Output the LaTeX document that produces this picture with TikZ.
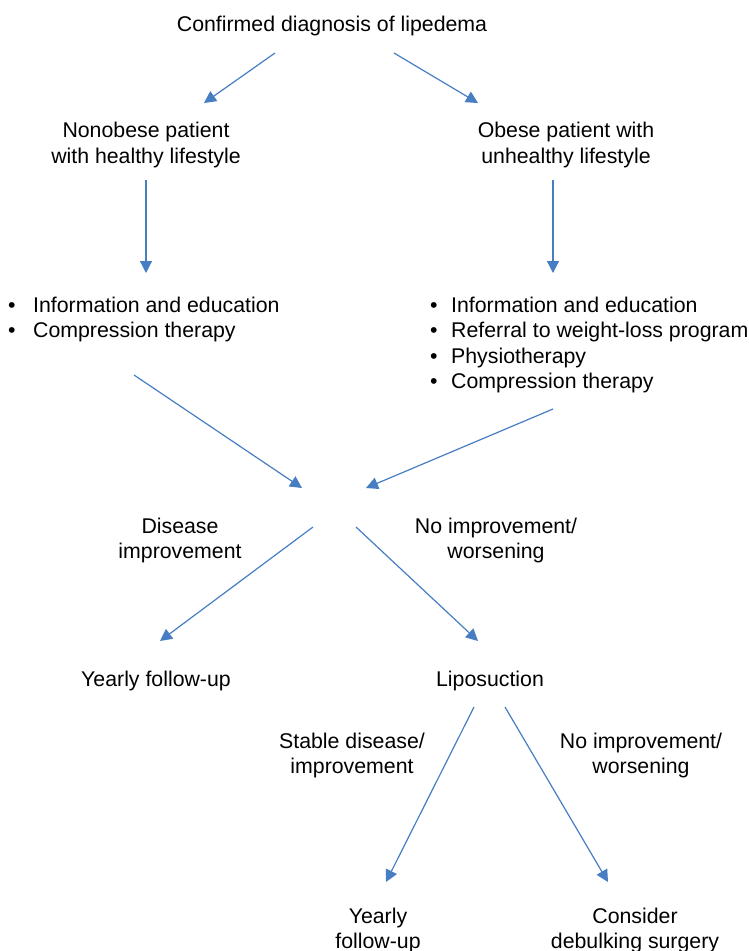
\documentclass[tikz,border=0pt]{standalone}
\usepackage{fontspec}
\setmainfont{Liberation Sans}
\usetikzlibrary{arrows.meta}
\definecolor{arrowblue}{RGB}{70,125,195}
\tikzset{
  lbl/.style={inner sep=0pt, align=center, font=\fontsize{21.3}{25.5}\selectfont},
  lst/.style={inner sep=0pt, align=left, anchor=west, font=\fontsize{21.3}{25.4}\selectfont},
  arr/.style={draw=arrowblue, line width=1.2pt, -{Triangle[length=12pt,width=12pt]}, arrowblue}
}
\newcommand{\bl}[1]{\makebox[#1][l]{\textbullet}}
\begin{document}
\begin{tikzpicture}[x=1pt,y={(0pt,-1pt)}]
\useasboundingbox (0,0) rectangle (749,951);
% texts
\node[lbl] (top) at (332,26) {Confirmed diagnosis of lipedema};
\node[lbl] (nonob) at (146,145) {Nonobese patient\\with healthy lifestyle};
\node[lbl] (obese) at (566,145) {Obese patient with\\unhealthy lifestyle};
\node[lbl,align=left,anchor=west] (llist) at (8,319.5) {\bl{25pt}Information and education\\\bl{25pt}Compression therapy};
\node[lst] (rlist) at (430,345) {\bl{21pt}Information and education\\\bl{21pt}Referral to weight-loss program\\\bl{21pt}Physiotherapy\\\bl{21pt}Compression therapy};
\node[lbl] (dimp) at (180,540.5) {Disease\\improvement};
\node[lbl] (noimp1) at (496,540.5) {No improvement/\\worsening};
\node[lbl] (yfu1) at (156,681) {Yearly follow-up};
\node[lbl] (lipo) at (490,681) {Liposuction};
\node[lbl] (stable) at (352,755.5) {Stable disease/\\improvement};
\node[lbl] (noimp2) at (641,755.5) {No improvement/\\worsening};
\node[lbl] (yfu2) at (378,930.5) {Yearly\\follow-up};
\node[lbl] (debulk) at (635,930.5) {Consider\\debulking surgery};
% arrow endpoints
\coordinate (a1s) at (275,53);  \coordinate (a1e) at (204,103);
\coordinate (a2s) at (394,53);  \coordinate (a2e) at (478,103);
\coordinate (a3s) at (146,180); \coordinate (a3e) at (146,273);
\coordinate (a4s) at (553,180); \coordinate (a4e) at (553,273);
\coordinate (a5s) at (134,375); \coordinate (a5e) at (302,488);
\coordinate (a6s) at (553,409); \coordinate (a6e) at (366,488);
\coordinate (a7s) at (313,527); \coordinate (a7e) at (160,641);
\coordinate (a8s) at (356,527); \coordinate (a8e) at (478,641);
\coordinate (a9s) at (474,707); \coordinate (a9e) at (386,882);
\coordinate (a10s) at (505,707); \coordinate (a10e) at (608,882);
\draw[arr] (a1s) -- (a1e);
\draw[arr] (a2s) -- (a2e);
\draw[arr] (a3s) -- (a3e);
\draw[arr] (a4s) -- (a4e);
\draw[arr] (a5s) -- (a5e);
\draw[arr] (a6s) -- (a6e);
\draw[arr] (a7s) -- (a7e);
\draw[arr] (a8s) -- (a8e);
\draw[arr] (a9s) -- (a9e);
\draw[arr] (a10s) -- (a10e);
\end{tikzpicture}
\end{document}
